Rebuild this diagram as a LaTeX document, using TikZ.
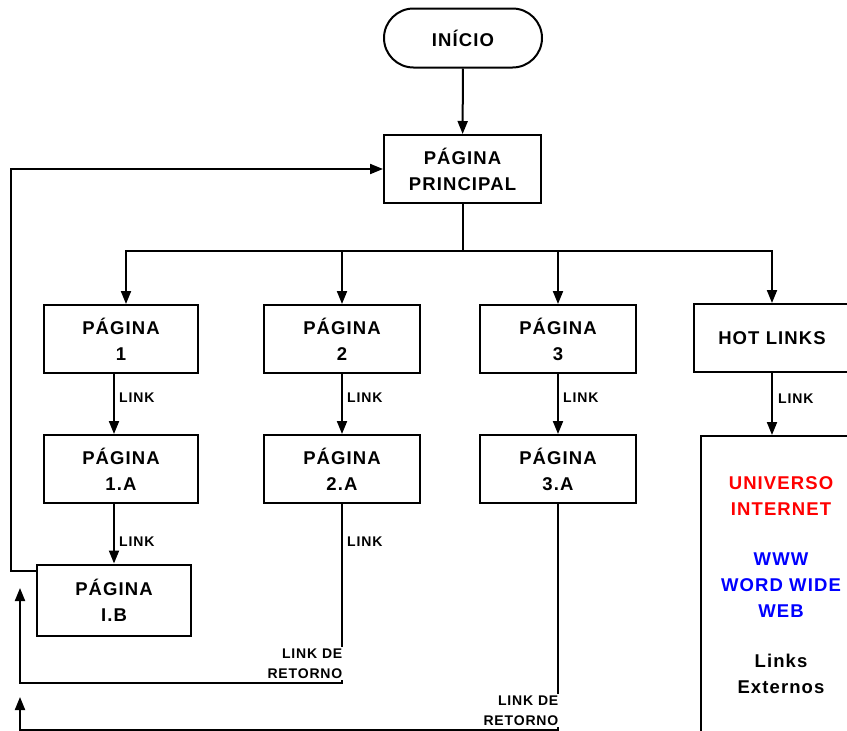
\documentclass[tikz,border=0pt]{standalone}
\usepackage{fontspec}
\setmainfont{Liberation Sans}[LetterSpace=6]
\usetikzlibrary{arrows.meta,shapes.misc,calc}
\begin{document}
\begin{tikzpicture}[x=1pt,y=-1pt,
  box/.style={draw, line width=2pt, minimum width=156pt, minimum height=68pt, align=center,
    font=\fontsize{18.5}{26}\selectfont\bfseries, inner sep=0pt},
  lbl/.style={font=\fontsize{14}{20}\selectfont\bfseries, anchor=west, inner sep=0pt},
  retlbl/.style={font=\fontsize{14}{20}\selectfont\bfseries, align=right, fill=white, inner sep=1.5pt, anchor=south east},
  ln/.style={line width=2pt},
  arr/.style={line width=2pt, -{Triangle[length=13pt,width=10pt]}}]
\useasboundingbox (0,0) rectangle (847,731);
\clip (0,0) rectangle (847,731);
% nodes
\node[box, rounded rectangle, minimum width=158pt, minimum height=59pt] (inicio) at (463,38) {INÍCIO};
\node[box, minimum width=157pt] (princ) at (462.5,169) {PÁGINA\\PRINCIPAL};
\node[box, minimum width=154pt] (p1) at (121,339) {PÁGINA\\1};
\node[box] (p2) at (342,339) {PÁGINA\\2};
\node[box] (p3) at (558,339) {PÁGINA\\3};
\node[box] (hot) at (772,338) {HOT LINKS};
\node[box, minimum width=154pt] (p1a) at (121,469) {PÁGINA\\1.A};
\node[box] (p2a) at (342,469) {PÁGINA\\2.A};
\node[box] (p3a) at (558,469) {PÁGINA\\3.A};
\node[box, minimum width=154pt, minimum height=71pt] (p1b) at (114,600) {PÁGINA\\I.B};
\node[box, anchor=north west, minimum width=160pt, minimum height=299pt] (ext) at (700,435)
  {\textcolor{red}{UNIVERSO}\\\textcolor{red}{INTERNET}\\[24pt]\textcolor{blue}{WWW}\\\textcolor{blue}{WORD WIDE}\\\textcolor{blue}{WEB}\\[24pt]Links\\Externos};
% connectors
\draw[arr] (inicio) -- (princ);
\draw[ln] (princ.south) -- ++(0,47) coordinate (bar);
\draw[arr] (bar) -| ([xshift=5pt]p1.north);
\draw[arr] (bar) -| (p2.north);
\draw[arr] (bar) -| (p3.north);
\draw[arr] (bar) -| (hot.north);
\draw[arr] ([xshift=-7pt]p1.south) -- ([xshift=-7pt]p1a.north);
\draw[arr] (p2.south) -- (p2a.north);
\draw[arr] (p3.south) -- (p3a.north);
\draw[arr] (hot.south) -- (hot.south |- ext.north);
\draw[arr] ([xshift=-7pt]p1a.south) -- (p1b.north);
\draw[arr] ([yshift=-7pt]p1b.north west) -- ++(-25,0) |- (princ.west);
\coordinate (r1a) at (20,683);
\coordinate (r1b) at (20,588);
\coordinate (r2a) at (20,730);
\coordinate (r2b) at (20,697);
\draw[arr] (p2a.south) -- (p2a.south |- r1a) -- (r1a) -- (r1b);
\draw[arr] (p3a.south) -- (p3a.south |- r2a) -- (r2a) -- (r2b);
% labels
\node[lbl] at ($(p1.south)+(-2,24)$) {LINK};
\node[lbl] at ($(p2.south)+(5,24)$) {LINK};
\node[lbl] at ($(p3.south)+(5,24)$) {LINK};
\node[lbl] at ($(hot.south)+(6,26)$) {LINK};
\node[lbl] at ($(p1a.south)+(-2,38)$) {LINK};
\node[lbl] at ($(p2a.south)+(5,38)$) {LINK};
\node[retlbl] at ($(p2a.south |- r1a)+(2,-3)$) {LINK DE\\RETORNO};
\node[retlbl] at ($(p3a.south |- r2a)+(2,-3)$) {LINK DE\\RETORNO};
\end{tikzpicture}
\end{document}
